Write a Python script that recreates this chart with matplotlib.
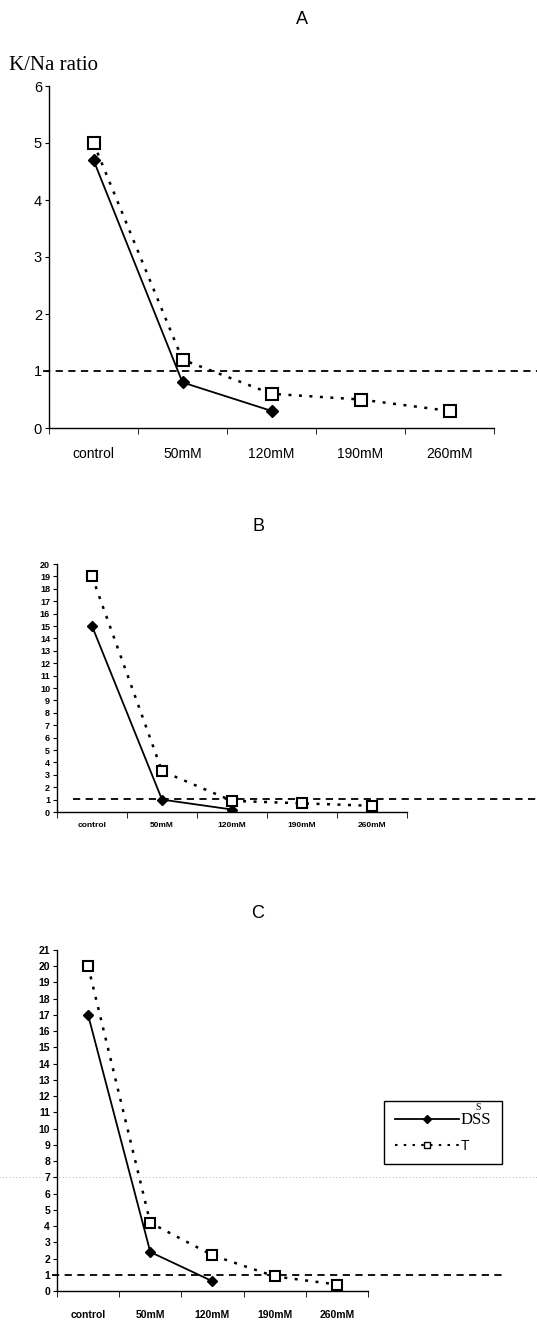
import matplotlib
matplotlib.use("Agg")
import matplotlib.pyplot as plt
from matplotlib.lines import Line2D

plt.rcParams["font.family"] = ["Liberation Sans", "DejaVu Sans"]

categories = ["control", "50mM", "120mM", "190mM", "260mM"]

# panel A
a_s = [4.7, 0.8, 0.3]
a_t = [5.0, 1.2, 0.6, 0.5, 0.3]
# panel B
b_s = [15, 1.0, 0.2]
b_t = [19, 3.3, 0.9, 0.7, 0.5]
# panel C
c_s = [17, 2.4, 0.6]
c_t = [20, 4.2, 2.2, 0.9, 0.4]

threshold = 1.0

W, H = 537, 1326
fig = plt.figure(figsize=(W / 100, H / 100), dpi=100)


def box(x0, x1, ytop, ybot):
    return [x0 / W, 1 - ybot / H, (x1 - x0) / W, (ybot - ytop) / H]


def panel(rect, s_vals, t_vals, ymax, ystep, tick_fs, xlab_fs, xpad, ms, bold, title,
          title_xy, hl_y, hl_span):
    ax = fig.add_axes(rect)
    xs = list(range(len(categories)))
    ax.plot(xs[:len(s_vals)], s_vals, color="black", lw=1.3, marker="D",
            markersize=ms * 0.8, markerfacecolor="black", zorder=3)
    ax.plot(xs, t_vals, color="black", lw=1.8, ls=(0, (1.2, 3)), marker="s",
            markersize=ms, markerfacecolor="white", markeredgecolor="black",
            markeredgewidth=1.5, zorder=4)
    ax.axhline(hl_y, xmin=hl_span[0], xmax=hl_span[1], color="black", lw=1.3,
               ls=(0, (4, 3)), clip_on=False, zorder=2)
    ax.set_xlim(-0.5, len(categories) - 0.5)
    ax.set_ylim(0, ymax)
    ax.set_yticks(range(0, ymax + 1, ystep))
    ax.set_xticks(xs)
    ax.set_xticklabels(categories)
    ax.set_xticks([i - 0.5 for i in range(len(categories) + 1)], minor=True)
    ax.tick_params(axis="x", which="major", length=0, pad=xpad, labelsize=xlab_fs)
    ax.tick_params(axis="x", which="minor", length=4, direction="out")
    ax.tick_params(axis="y", length=3, direction="out", pad=2, labelsize=tick_fs)
    for sp in ["top", "right"]:
        ax.spines[sp].set_visible(False)
    for sp in ["left", "bottom"]:
        ax.spines[sp].set_linewidth(1.0)
    if bold:
        for lab in ax.get_xticklabels() + ax.get_yticklabels():
            lab.set_fontweight("bold")
    fig.text(title_xy[0] / W, 1 - title_xy[1] / H, title, ha="center", va="center",
             fontsize=13)
    return ax


axA = panel(box(49, 494, 86, 428), a_s, a_t, 6, 1, 10.5, 10, 14, 8, False, "A", (302, 19),
            threshold, (-0.013, 1.097))
fig.text(9 / W, 1 - 66 / H, "K/Na ratio", family="Liberation Serif", fontsize=15,
         ha="left", va="center")

axB = panel(box(57, 407, 564, 812), b_s, b_t, 20, 1, 6.5, 6, 7, 7, True, "B", (258, 527),
            1.05, (0.046, 1.37))

axC = panel(box(57, 368, 950, 1291), c_s, c_t, 21, 1, 7.5, 7.5, 14, 7, True, "C", (258, 914),
            threshold, (-0.016, 1.434))
# faint scan line across panel C
axC.axhline(7, xmin=-0.2, xmax=1.55, color="#999999", lw=0.6, ls=(0, (1, 3)),
            clip_on=False, zorder=1)

handles = [
    Line2D([], [], color="black", lw=1.3, marker="D", markersize=4),
    Line2D([], [], color="black", lw=1.5, ls=(0, (1.2, 3)), marker="s", markersize=4,
           markerfacecolor="white"),
]
leg = fig.legend(handles, ["DSS", "T"], loc="upper left",
                 bbox_to_anchor=(384 / W, 1 - 1101 / H), fancybox=False,
                 edgecolor="black", framealpha=1, fontsize=10, handlelength=4.6,
                 handletextpad=0.1, borderpad=0.8, labelspacing=0.8, borderaxespad=0)
leg.get_frame().set_linewidth(1.0)
leg.get_texts()[0].set_family("Liberation Serif")
leg.get_texts()[0].set_fontsize(12)
fig.text(478 / W, 1 - 1108 / H, "S", family="Liberation Serif", fontsize=7,
         ha="center", va="center", zorder=10)

fig.savefig("out.png", dpi=100, facecolor="white")
